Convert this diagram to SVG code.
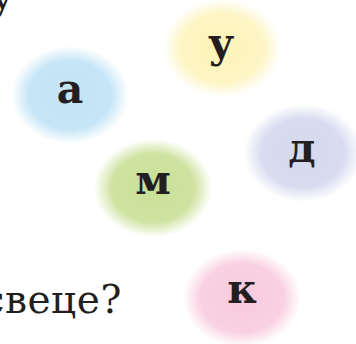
<svg xmlns="http://www.w3.org/2000/svg" width="356" height="344" viewBox="0 0 356 344">
<defs>
<radialGradient id="gBlue"><stop offset="0" stop-color="#c2e4f6"/><stop offset="0.7" stop-color="#c6e6f7"/><stop offset="1" stop-color="#c6e6f7" stop-opacity="0"/></radialGradient>
<radialGradient id="gYellow"><stop offset="0" stop-color="#fdf3b8"/><stop offset="0.7" stop-color="#fdf5c4"/><stop offset="1" stop-color="#fdf5c4" stop-opacity="0"/></radialGradient>
<radialGradient id="gPurple"><stop offset="0" stop-color="#d4d8ed"/><stop offset="0.7" stop-color="#d8dcef"/><stop offset="1" stop-color="#d8dcef" stop-opacity="0"/></radialGradient>
<radialGradient id="gGreen"><stop offset="0" stop-color="#c8df95"/><stop offset="0.7" stop-color="#cfe3a2"/><stop offset="1" stop-color="#cfe3a2" stop-opacity="0"/></radialGradient>
<radialGradient id="gPink"><stop offset="0" stop-color="#f8cadd"/><stop offset="0.7" stop-color="#f9d1e1"/><stop offset="1" stop-color="#f9d1e1" stop-opacity="0"/></radialGradient>
</defs>
<style>
.l{font-family:"DejaVu Serif","Liberation Serif",serif;font-weight:bold;font-size:41px;fill:#231f20;text-anchor:middle}
.t{font-family:"DejaVu Serif","Liberation Serif",serif;font-size:39px;fill:#231f20}
</style>
<rect width="356" height="344" fill="#ffffff"/>
<text class="t" x="-9" y="9">у</text>
<text class="t" x="122" y="313" text-anchor="end" letter-spacing="0.6">свеце?</text>
<g id="node-a"><ellipse cx="70" cy="95" rx="59" ry="49" fill="url(#gBlue)"/><text class="l" x="70" y="103">а</text></g>
<g id="node-u"><ellipse cx="222" cy="48" rx="59" ry="49" fill="url(#gYellow)"/><text class="l" x="221" y="57">у</text></g>
<g id="node-d"><ellipse cx="303" cy="153" rx="59" ry="49" fill="url(#gPurple)"/><text class="l" x="302" y="162">д</text></g>
<g id="node-m"><ellipse cx="153" cy="188" rx="59" ry="49" fill="url(#gGreen)"/><text class="l" x="153" y="194">м</text></g>
<g id="node-k"><ellipse cx="242" cy="298" rx="59" ry="49" fill="url(#gPink)"/><text class="l" x="242" y="303">к</text></g>
</svg>
